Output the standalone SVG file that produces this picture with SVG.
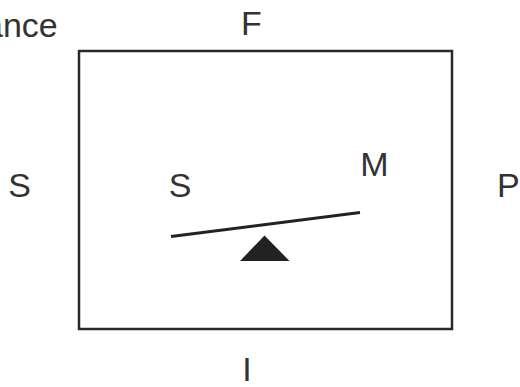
<svg xmlns="http://www.w3.org/2000/svg" width="520" height="387" viewBox="0 0 520 387">
<style>
.t{font-family:"Liberation Sans",Arial,sans-serif;font-size:34px;fill:#333}
.frame{fill:none;stroke:#2a2a2a;stroke-width:2.5}
</style>
<rect width="520" height="387" fill="#fff"/>
<g id="frame-node"><rect class="frame" x="79" y="51" width="373" height="278"/></g>
<g id="labels">
<text id="label-ance" class="t" x="-16" y="37">ance</text>
<text id="label-F" class="t" x="251.5" y="35" text-anchor="middle">F</text>
<text id="label-S-outer" class="t" x="19.5" y="197" text-anchor="middle">S</text>
<text id="label-S-inner" class="t" x="180" y="197" text-anchor="middle">S</text>
<text id="label-M" class="t" x="374.5" y="175.5" text-anchor="middle">M</text>
<text id="label-P" class="t" x="497" y="197">P</text>
<text id="label-I" class="t" x="247" y="381" text-anchor="middle">I</text>
</g>
<g id="seesaw">
<line x1="171" y1="236.5" x2="360" y2="212.5" stroke="#222" stroke-width="3"/>
<polygon points="264.5,235.5 240,261 289.5,261" fill="#222"/>
</g>
</svg>
